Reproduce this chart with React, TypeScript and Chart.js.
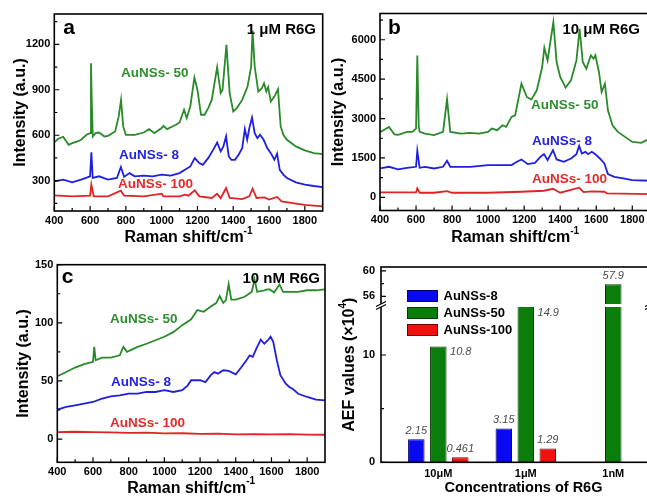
import { useEffect, useRef } from 'react';
import { Chart, registerables } from 'chart.js';

Chart.register(...registerables);

const FONT = '"Liberation Sans", Arial, Helvetica, sans-serif';

// ---------------- data ----------------
type Pt = [number, number];

const RAMAN_TICKS = [400, 600, 800, 1000, 1200, 1400, 1600, 1800];
const RAMAN_MINOR = [500, 700, 900, 1100, 1300, 1500, 1700];
const SERIES_NAMES = ['AuNSs- 50', 'AuNSs- 8', 'AuNSs- 100'];

// panel a : 1 uM R6G
const A_Y_TICKS = [300, 600, 900, 1200];
const A_Y_MINOR = [150, 450, 750, 1050, 1350];
const A_AUNS50: Pt[] = [[400,553],[420,575],[450,590],[480,537],[500,548],[530,560],[550,570],[580,603],[600,614],[605,1075],[610,800],[615,592],[630,614],[650,618],[680,592],[700,596],[740,625],[760,724],[773,833],[785,658],[800,603],[850,603],[900,618],[930,640],[960,614],[1000,647],[1010,662],[1030,640],[1060,658],[1080,669],[1100,684],[1125,768],[1140,713],[1160,790],[1183,980],[1200,899],[1220,735],[1240,735],[1260,779],[1280,833],[1310,1049],[1330,878],[1340,899],[1362,1196],[1380,878],[1400,757],[1420,779],[1450,833],[1480,921],[1500,1053],[1508,1290],[1520,1053],[1540,888],[1560,910],[1572,943],[1585,888],[1595,917],[1610,822],[1630,855],[1650,904],[1665,658],[1680,603],[1700,570],[1750,526],[1800,500],[1850,482],[1900,476]];
const A_AUNS8: Pt[] = [[400,296],[450,307],[500,289],[550,307],[600,329],[607,487],[615,318],[650,329],[700,307],[750,318],[772,390],[790,325],[820,350],[850,329],[900,333],[950,329],[1000,340],[1050,333],[1100,350],[1130,372],[1160,394],[1185,449],[1210,416],[1230,405],[1260,449],[1290,508],[1310,552],[1330,493],[1345,526],[1360,592],[1375,460],[1390,438],[1410,438],[1430,471],[1450,515],[1465,640],[1478,570],[1490,647],[1505,717],[1520,614],[1535,581],[1550,603],[1570,570],[1590,515],[1610,482],[1630,438],[1645,478],[1660,372],[1680,340],[1700,318],[1750,289],[1800,274],[1850,265],[1900,258]];
const A_AUNS100: Pt[] = [[400,203],[500,197],[600,201],[607,274],[620,197],[700,197],[772,234],[790,201],[900,197],[1000,214],[1010,197],[1100,197],[1130,208],[1150,201],[1185,236],[1210,197],[1280,186],[1310,214],[1330,184],[1360,252],[1380,186],[1450,179],[1490,197],[1508,247],[1530,186],[1575,190],[1600,175],[1645,193],[1670,164],[1750,149],[1800,140],[1900,131]];

// panel b : 10 uM R6G
const B_Y_TICKS = [0, 1500, 3000, 4500, 6000];
const B_Y_MINOR = [750, 2250, 3750, 5250, 6750];
const B_AUNS50: Pt[] = [[400,2480],[450,2683],[480,2400],[500,2380],[550,2493],[580,2493],[600,2620],[607,5405],[615,2700],[620,2493],[650,2430],[700,2367],[750,2493],[772,3734],[790,2493],[850,2430],[900,2455],[950,2430],[1000,2493],[1020,2620],[1050,2556],[1080,2746],[1100,2683],[1130,3063],[1150,3126],[1185,4329],[1215,3822],[1240,3721],[1270,4076],[1300,4962],[1312,5696],[1330,5215],[1362,6671],[1380,5152],[1400,4582],[1430,4177],[1460,4455],[1490,5215],[1508,6418],[1525,5152],[1545,4899],[1570,5405],[1585,5278],[1595,5405],[1615,4772],[1630,4012],[1648,4329],[1665,3316],[1690,2746],[1720,2493],[1760,2303],[1800,2113],[1850,2075],[1880,2177],[1900,2200]];
const B_AUNS8: Pt[] = [[400,1100],[450,1164],[500,1063],[550,1126],[600,1164],[607,1772],[620,1126],[650,1164],[700,1100],[750,1164],[772,1392],[790,1164],[850,1164],[900,1164],[1000,1227],[1100,1227],[1130,1227],[1160,1354],[1185,1443],[1220,1265],[1260,1316],[1290,1544],[1310,1645],[1330,1417],[1360,1797],[1380,1443],[1420,1354],[1460,1480],[1490,1645],[1505,1962],[1520,1670],[1540,1734],[1555,1645],[1575,1734],[1595,1645],[1620,1480],[1645,1290],[1665,885],[1700,784],[1750,721],[1800,657],[1900,632]];
const B_AUNS100: Pt[] = [[400,189],[600,189],[607,341],[620,176],[700,176],[772,240],[800,176],[1000,176],[1185,214],[1310,252],[1360,328],[1400,176],[1505,366],[1530,201],[1575,227],[1645,214],[1660,151],[1900,126]];

// panel c : 10 nM R6G
const C_Y_TICKS = [0, 50, 100, 150];
const C_Y_MINOR = [25, 75, 125];
const C_AUNS50: Pt[] = [[400,54],[450,57.7],[500,61.5],[550,64.4],[600,66.4],[607,79.3],[615,67.8],[650,70],[700,70],[750,72],[770,79.3],[790,75],[850,79.3],[900,82],[950,85],[1000,88],[1050,92],[1100,98],[1150,103],[1185,111],[1220,109.5],[1260,114],[1290,117],[1310,123],[1330,117],[1345,119.5],[1360,133.3],[1375,120],[1400,120],[1450,122.4],[1490,126.7],[1505,137.4],[1520,126.7],[1560,128],[1575,128.7],[1590,128.7],[1615,126],[1645,133],[1665,126.7],[1700,126.7],[1750,126.7],[1800,128],[1850,128],[1900,128.7]];
const C_AUNS8: Pt[] = [[400,25.3],[450,27.6],[500,29],[550,30.4],[600,31.9],[650,34.8],[700,36.8],[750,37.6],[800,39],[850,39],[900,40.5],[950,40.5],[1000,42],[1050,40.5],[1100,42],[1130,46],[1150,50.6],[1200,50.6],[1230,49],[1260,55],[1280,57.7],[1300,56.3],[1330,59.2],[1360,58.6],[1400,55.7],[1430,61.5],[1460,67.8],[1478,72],[1495,70.7],[1520,79.3],[1540,85.6],[1560,82],[1580,85],[1595,88],[1610,83.6],[1630,67.8],[1650,55],[1680,47.7],[1700,44.8],[1720,43],[1750,39],[1800,36.2],[1850,33.9],[1900,33.3]];
const C_AUNS100: Pt[] = [[400,6],[500,6.3],[600,6],[700,5.8],[800,5.4],[900,5.6],[1000,4.8],[1100,5],[1200,4.5],[1300,4.7],[1400,4],[1500,4.3],[1600,4],[1700,4.2],[1800,3.8],[1900,3.7]];

// panel d : AEF values (x10^4)
const AEF_CATS = ['10μM', '1μM', '1nM'];
const AEF_NAMES = ['AuNSs-8', 'AuNSs-50', 'AuNSs-100'];
const AEF_8: (number | null)[] = [2.15, 3.15, null];
const AEF_50: (number | null)[] = [10.8, 14.9, 57.9];
const AEF_100: (number | null)[] = [0.461, 1.29, null];
const AEF_LOW_TICKS = [0, 10];
const AEF_LOW_MINOR = [5];
const AEF_HIGH_TICKS = [56, 60];
const AEF_HIGH_MINOR = [58];

// ---------------- styles ----------------
const LINE_COLORS = ['#2a8a2a', '#1f1fe0', '#e02424'];
const TEXT_COLORS = ['#2e8f2e', '#2222e0', '#e62a2a'];
const BAR_COLORS = ['#0a0af2', '#0b7d0b', '#f21010'];
const BAR_BORDERS = ['#000070', '#003a00', '#700000'];
const GAP = 3;

type Part = { t: string; sup?: boolean };

function drawRich(ctx: CanvasRenderingContext2D, parts: Part[], cx: number, cy: number, size: number, rotate: boolean) {
  ctx.save();
  ctx.translate(cx, cy);
  if (rotate) ctx.rotate(-Math.PI / 2);
  ctx.fillStyle = '#000';
  ctx.textBaseline = 'middle';
  ctx.textAlign = 'left';
  const fonts = parts.map((p) => `bold ${p.sup ? Math.round(size * 0.65) : size}px ${FONT}`);
  let total = 0;
  parts.forEach((p, i) => { ctx.font = fonts[i]; total += ctx.measureText(p.t).width; });
  let x = -total / 2;
  parts.forEach((p, i) => {
    ctx.font = fonts[i];
    ctx.fillText(p.t, x, p.sup ? -size * 0.42 : 0);
    x += ctx.measureText(p.t).width;
  });
  ctx.restore();
}

function drawFrameTicks(chart: any, xMajor: number[], xMinor: number[], yAxes: { id: string; major: number[]; minor: number[] }[]) {
  const { ctx, chartArea: ca } = chart;
  const xs = chart.scales.x;
  ctx.save();
  ctx.strokeStyle = '#000';
  ctx.lineWidth = 1.2;
  ctx.beginPath();
  const xt = (vals: number[], len: number) => vals.forEach((v) => {
    const px = xs.getPixelForValue(v);
    ctx.moveTo(px, ca.bottom); ctx.lineTo(px, ca.bottom - len);
  });
  xt(xMajor, 5); xt(xMinor, 3);
  yAxes.forEach((a) => {
    const ys = chart.scales[a.id];
    const yt = (vals: number[], len: number) => vals.forEach((v) => {
      if (v < ys.min || v > ys.max) return;
      const py = ys.getPixelForValue(v);
      ctx.moveTo(ca.left, py); ctx.lineTo(ca.left + len, py);
    });
    yt(a.major, 5); yt(a.minor, 3);
  });
  ctx.stroke();
  ctx.lineWidth = 1.6;
  ctx.strokeRect(ca.left, ca.top, ca.right - ca.left, ca.bottom - ca.top);
  ctx.restore();
}

const tickFont = { family: FONT, size: 11, weight: 'bold' as const };

interface SpecPanel {
  letter: string;
  title: string;
  series: Pt[][];
  yMin: number; yMax: number; yTicks: number[]; yMinor: number[];
  labelPos: Pt[];
  padTop: number; padRight: number; yW: number; xH: number;
  letterDx: number; letterDy: number; titleDx: number; titleDy: number;
  yTitleDx: number; xTitleDy: number;
}

function spectrumConfig(p: SpecPanel) {
  const plugin = {
    id: 'spec_' + p.letter,
    afterDraw(chart: any) {
      const { ctx, chartArea: ca, scales } = chart;
      drawFrameTicks(chart, RAMAN_TICKS, RAMAN_MINOR, [{ id: 'y', major: p.yTicks, minor: p.yMinor }]);
      ctx.save();
      ctx.fillStyle = '#000';
      ctx.textBaseline = 'alphabetic';
      ctx.textAlign = 'left';
      ctx.font = `bold 21px ${FONT}`;
      ctx.fillText(p.letter, ca.left + p.letterDx, ca.top + p.letterDy);
      ctx.textAlign = 'right';
      ctx.font = `bold 15px ${FONT}`;
      ctx.fillText(p.title, ca.right + p.titleDx, ca.top + p.titleDy);
      ctx.textAlign = 'left';
      ctx.textBaseline = 'middle';
      ctx.font = `bold 13.5px ${FONT}`;
      p.labelPos.forEach(([x, y], i) => {
        ctx.fillStyle = TEXT_COLORS[i];
        ctx.fillText(SERIES_NAMES[i], scales.x.getPixelForValue(x), scales.y.getPixelForValue(y));
      });
      ctx.restore();
      drawRich(ctx, [{ t: 'Intensity (a.u.)' }], ca.left + p.yTitleDx, (ca.top + ca.bottom) / 2, 16, true);
      drawRich(ctx, [{ t: 'Raman shift/cm' }, { t: '-1', sup: true }], (ca.left + ca.right) / 2, ca.bottom + p.xTitleDy, 16, false);
    },
  };
  return {
    type: 'line',
    data: {
      datasets: p.series.map((s, i) => ({
        label: SERIES_NAMES[i],
        data: s.map(([x, y]) => ({ x, y })),
        borderColor: LINE_COLORS[i],
        borderWidth: 1.8,
        pointRadius: 0,
        tension: 0,
        fill: false,
      })),
    },
    options: {
      animation: false,
      responsive: false,
      devicePixelRatio: 1,
      events: [],
      layout: { padding: { top: p.padTop, right: p.padRight, left: 0, bottom: 0 } },
      plugins: { legend: { display: false }, tooltip: { enabled: false }, title: { display: false } },
      scales: {
        x: {
          type: 'linear', min: 400, max: 1900,
          afterBuildTicks: (s: any) => { s.ticks = RAMAN_TICKS.map((v) => ({ value: v })); },
          afterFit: (s: any) => { s.height = p.xH; },
          grid: { display: false, drawTicks: false },
          border: { display: false },
          ticks: { font: tickFont, color: '#000', padding: 3, maxRotation: 0, autoSkip: false, callback: (v: any) => String(v) },
        },
        y: {
          type: 'linear', min: p.yMin, max: p.yMax,
          afterBuildTicks: (s: any) => { s.ticks = p.yTicks.map((v) => ({ value: v })); },
          afterFit: (s: any) => { s.width = p.yW; },
          grid: { display: false, drawTicks: false },
          border: { display: false },
          ticks: { font: tickFont, color: '#000', padding: 4, autoSkip: false, callback: (v: any) => String(v) },
        },
      },
    },
    plugins: [plugin],
  };
}

const PANEL_A: SpecPanel = {
  letter: 'a', title: '1 μM R6G', series: [A_AUNS50, A_AUNS8, A_AUNS100],
  yMin: 100, yMax: 1400, yTicks: A_Y_TICKS, yMinor: A_Y_MINOR,
  labelPos: [[773, 1010], [762, 469], [756, 278]],
  padTop: 14, padRight: 7.3, yW: 54.3, xH: 39,
  letterDx: 9, letterDy: 19.5, titleDx: -6.7, titleDy: 19.5, yTitleDx: -34, xTitleDy: 27,
};
const PANEL_B: SpecPanel = {
  letter: 'b', title: '10 μM R6G', series: [B_AUNS50, B_AUNS8, B_AUNS100],
  yMin: -500, yMax: 7000, yTicks: B_Y_TICKS, yMinor: B_Y_MINOR,
  labelPos: [[1238, 3496], [1243, 2123], [1243, 675]],
  padTop: 13.5, padRight: 5.7, yW: 54, xH: 39.5,
  letterDx: 8, letterDy: 20, titleDx: -10.3, titleDy: 20, yTitleDx: -41, xTitleDy: 27.5,
};
const PANEL_C: SpecPanel = {
  letter: 'c', title: '10 nM R6G', series: [C_AUNS50, C_AUNS8, C_AUNS100],
  yMin: -20, yMax: 150, yTicks: C_Y_TICKS, yMinor: C_Y_MINOR,
  labelPos: [[695, 103.2], [701, 48.9], [695, 13.5]],
  padTop: 14.7, padRight: 7, yW: 57.3, xH: 36.7,
  letterDx: 4.5, letterDy: 18.5, titleDx: -5, titleDy: 18.5, yTitleDx: -34, xTitleDy: 26,
};

function aefConfig() {
  const pts = (arr: (number | null)[]) => arr.map((v, i) => ({ x: i + 1, y: v }));
  const ds = (i: number, data: (number | null)[], axis: string) => ({
    label: AEF_NAMES[i],
    data: pts(data),
    yAxisID: axis,
    stack: 's' + i,
    backgroundColor: BAR_COLORS[i],
    borderColor: BAR_BORDERS[i],
    borderWidth: 1,
  });
  const plugin = {
    id: 'aef',
    beforeDatasetDraw(chart: any, args: any) {
      const ys = args.meta.yScale;
      const ca = chart.chartArea;
      const ctx = chart.ctx;
      const top = ys.id === 'yLow' ? ys.top + GAP : ys.top;
      ctx.save();
      ctx.beginPath();
      ctx.rect(ca.left, top, ca.right - ca.left, ys.bottom - top);
      ctx.clip();
    },
    afterDatasetDraw(chart: any) {
      chart.ctx.restore();
    },
    afterDraw(chart: any) {
      const { ctx, chartArea: ca, scales } = chart;
      drawFrameTicks(chart, [], [], [
        { id: 'yHigh', major: AEF_HIGH_TICKS, minor: AEF_HIGH_MINOR },
        { id: 'yLow', major: AEF_LOW_TICKS, minor: AEF_LOW_MINOR },
      ]);
      const yb = scales.yLow.top;
      ctx.save();
      // axis break
      [ca.left, ca.right].forEach((ax) => {
        ctx.fillStyle = '#fff';
        ctx.fillRect(ax - 2, yb, 4, GAP);
        ctx.strokeStyle = '#000';
        ctx.lineWidth = 1.3;
        ctx.beginPath();
        [yb, yb + GAP].forEach((yy) => { ctx.moveTo(ax - 5, yy + 2.5); ctx.lineTo(ax + 5, yy - 2.5); });
        ctx.stroke();
      });
      // legend
      ctx.textBaseline = 'middle';
      ctx.textAlign = 'left';
      ctx.font = `bold 13px ${FONT}`;
      AEF_NAMES.forEach((n, i) => {
        const bx = ca.left + 26.5;
        const by = ca.top + 23.5 + i * 17;
        ctx.fillStyle = BAR_COLORS[i];
        ctx.fillRect(bx, by, 30, 11);
        ctx.strokeStyle = BAR_BORDERS[i];
        ctx.lineWidth = 1;
        ctx.strokeRect(bx, by, 30, 11);
        ctx.fillStyle = '#000';
        ctx.fillText(n, bx + 36, by + 6);
      });
      // value labels
      ctx.font = `italic 11px ${FONT}`;
      ctx.fillStyle = '#4a4a4a';
      const series = [
        { vals: AEF_8, metaIdx: 0 },
        { vals: AEF_50, metaIdx: 1 },
        { vals: AEF_100, metaIdx: 3 },
      ];
      series.forEach((s, si) => {
        s.vals.forEach((v, ci) => {
          if (v === null) return;
          const txt = String(v);
          if (si === 1) {
            if (v >= scales.yHigh.min) {
              const el = chart.getDatasetMeta(2).data[ci];
              ctx.textAlign = 'center';
              ctx.fillText(txt, el.x, el.y - 8.5);
            } else {
              const el = chart.getDatasetMeta(1).data[ci];
              const topPx = Math.max(el.y, scales.yLow.top + GAP);
              ctx.textAlign = 'left';
              ctx.fillText(txt, el.x + el.width / 2 + 3.5, topPx + 5.5);
            }
          } else {
            const el = chart.getDatasetMeta(s.metaIdx).data[ci];
            ctx.textAlign = 'center';
            ctx.fillText(txt, el.x, el.y - 8.5);
          }
        });
      });
      ctx.restore();
      drawRich(ctx, [{ t: 'AEF values (×10' }, { t: '4', sup: true }, { t: ')' }], ca.left - 31, (ca.top + ca.bottom) / 2, 16, true);
      drawRich(ctx, [{ t: 'Concentrations of R6G' }], (ca.left + ca.right) / 2 + 8, ca.bottom + 26, 14.5, false);
    },
  };
  const yCommon = {
    type: 'linear',
    position: 'left',
    stack: 'aef',
    stacked: false,
    offset: false,
    afterFit: (s: any) => { s.width = 61; },
    grid: { display: false, drawTicks: false },
    border: { display: false },
  };
  return {
    type: 'bar',
    data: {
      datasets: [ds(0, AEF_8, 'yLow'), ds(1, AEF_50, 'yLow'), { ...ds(1, AEF_50, 'yHigh'), stack: 's1' }, ds(2, AEF_100, 'yLow')],
    },
    options: {
      animation: false,
      responsive: false,
      devicePixelRatio: 1,
      events: [],
      layout: { padding: { top: 17, right: 10, left: 0, bottom: 0 } },
      datasets: { bar: { categoryPercentage: 0.754, barPercentage: 0.75 } },
      plugins: { legend: { display: false }, tooltip: { enabled: false }, title: { display: false } },
      scales: {
        x: {
          type: 'linear', min: 0.345, max: 3.42, offset: false,
          afterBuildTicks: (s: any) => { s.ticks = AEF_CATS.map((_, i) => ({ value: i + 1 })); },
          afterFit: (s: any) => { s.height = 36.7; },
          grid: { display: false, drawTicks: false, offset: false },
          border: { display: false },
          ticks: { font: tickFont, color: '#000', padding: 5, maxRotation: 0, autoSkip: false, callback: (v: any) => AEF_CATS[Math.round(v) - 1] ?? '' },
        },
        yLow: {
          ...yCommon, stackWeight: 158.3, min: 0, max: 14.75,
          afterBuildTicks: (s: any) => { s.ticks = AEF_LOW_TICKS.map((v) => ({ value: v })); },
          ticks: { font: tickFont, color: '#000', padding: 6, autoSkip: false, callback: (v: any) => String(v) },
        },
        yHigh: {
          ...yCommon, stackWeight: 37, min: 54.8, max: 60.6,
          afterBuildTicks: (s: any) => { s.ticks = AEF_HIGH_TICKS.map((v) => ({ value: v })); },
          ticks: { font: tickFont, color: '#000', padding: 6, autoSkip: false, callback: (v: any) => String(v) },
        },
      },
    },
    plugins: [plugin],
  };
}

function Panel({ make, left, top, width, height }: { make: () => any; left: number; top: number; width: number; height: number }) {
  const ref = useRef<HTMLCanvasElement>(null);
  useEffect(() => {
    const chart = new Chart(ref.current as HTMLCanvasElement, make());
    return () => chart.destroy();
  }, []);
  return (
    <canvas
      ref={ref}
      width={width}
      height={height}
      style={{ position: 'absolute', left, top, width, height, display: 'block' }}
    />
  );
}

export default function App() {
  return (
    <div style={{ position: 'fixed', left: 0, top: 0, width: 647, height: 499, overflow: 'hidden', background: '#fff' }}>
      <Panel make={() => spectrumConfig(PANEL_A)} left={0} top={0} width={330} height={250} />
      <Panel make={() => spectrumConfig(PANEL_B)} left={326} top={0} width={330} height={250} />
      <Panel make={() => spectrumConfig(PANEL_C)} left={0} top={250} width={332} height={249} />
      <Panel make={aefConfig} left={320} top={250} width={340} height={249} />
    </div>
  );
}
